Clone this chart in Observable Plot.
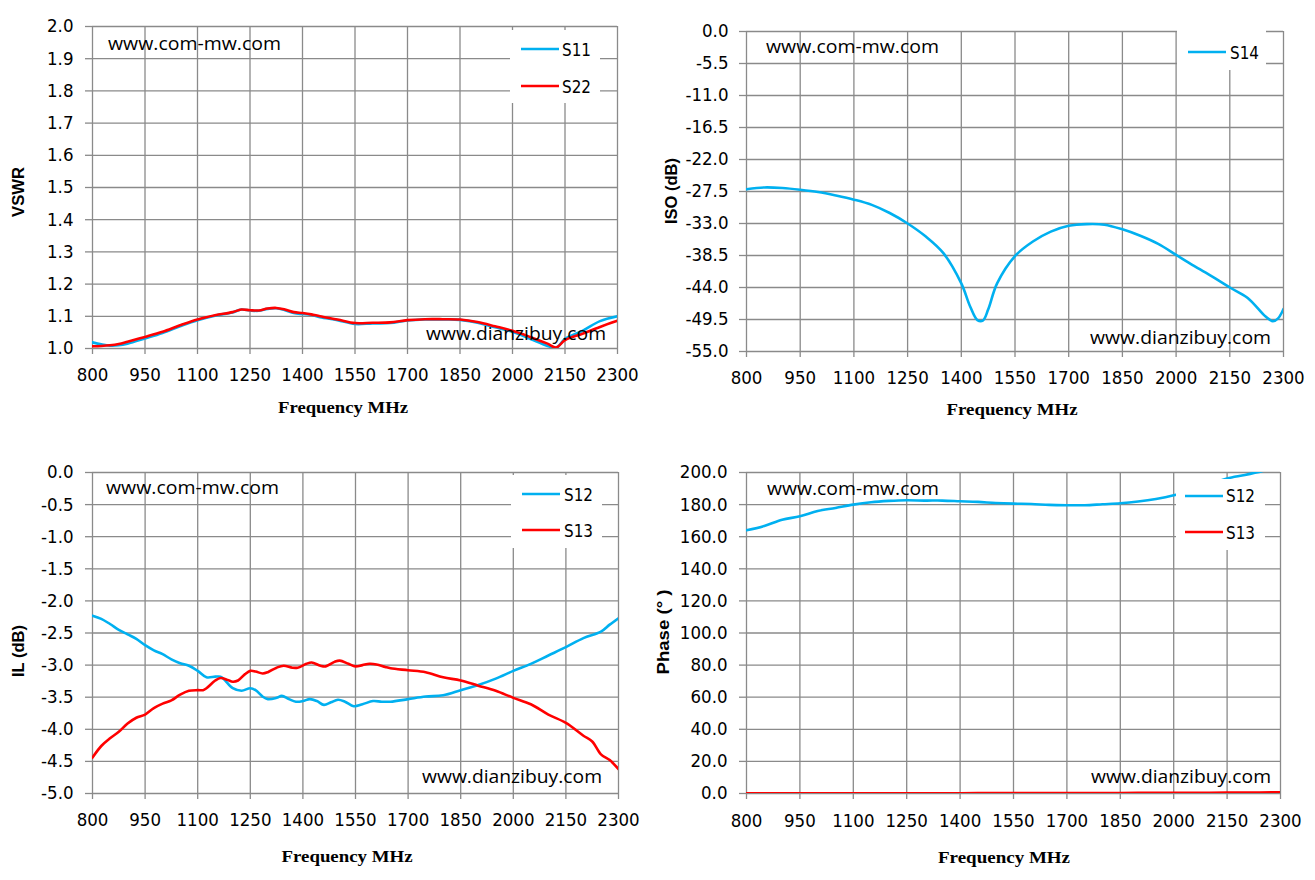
<!DOCTYPE html>
<html><head><meta charset="utf-8">
<script src="https://cdn.jsdelivr.net/npm/d3@7"></script>
<script src="https://cdn.jsdelivr.net/npm/@observablehq/plot@0.6"></script>
<style>
html,body{margin:0;padding:0;background:#fff;}
#root{position:relative;width:1315px;height:880px;overflow:hidden;background:#fff;}
.panel{position:absolute;}
#overlay{position:absolute;left:0;top:0;pointer-events:none;}
</style></head><body><div id="root"></div>
<script>
// ---------- tick labels ----------
const freqTicks = [800, 950, 1100, 1250, 1400, 1550, 1700, 1850, 2000, 2150, 2300];
const vswrTicks = [1.0, 1.1, 1.2, 1.3, 1.4, 1.5, 1.6, 1.7, 1.8, 1.9, 2.0];
const isoTicks = [0, -5.5, -11, -16.5, -22, -27.5, -33, -38.5, -44, -49.5, -55];
const ilTicks = [0, -0.5, -1, -1.5, -2, -2.5, -3, -3.5, -4, -4.5, -5];
const phaseTicks = [0, 20, 40, 60, 80, 100, 120, 140, 160, 180, 200];

// ---------- VSWR (top-left) ----------
const vswrFreq = [800, 825, 850, 875, 900, 950, 1000, 1050, 1100, 1150, 1200, 1225, 1250, 1275, 1300, 1325, 1350, 1375, 1400, 1425, 1450, 1500, 1550, 1600, 1650, 1700, 1750, 1800, 1850, 1900, 1950, 2000, 2050, 2100, 2125, 2150, 2200, 2250, 2300];
const s11 = [1.019, 1.013, 1.009, 1.010, 1.015, 1.031, 1.048, 1.069, 1.088, 1.102, 1.112, 1.121, 1.118, 1.117, 1.123, 1.125, 1.119, 1.110, 1.107, 1.105, 1.097, 1.088, 1.076, 1.078, 1.079, 1.087, 1.090, 1.090, 1.089, 1.080, 1.066, 1.052, 1.030, 1.008, 1.002, 1.030, 1.055, 1.085, 1.100];
const s22 = [1.007, 1.008, 1.010, 1.014, 1.021, 1.036, 1.052, 1.072, 1.090, 1.103, 1.113, 1.121, 1.119, 1.118, 1.124, 1.126, 1.121, 1.113, 1.110, 1.106, 1.100, 1.090, 1.079, 1.080, 1.081, 1.088, 1.091, 1.091, 1.090, 1.082, 1.069, 1.055, 1.036, 1.015, 1.003, 1.026, 1.046, 1.067, 1.086];

// ---------- ISO (top-right) ----------
const isoFreq = [800, 850, 900, 950, 1000, 1050, 1100, 1150, 1200, 1250, 1300, 1350, 1400, 1425, 1445, 1460, 1475, 1500, 1550, 1600, 1650, 1700, 1750, 1800, 1850, 1900, 1950, 2000, 2050, 2100, 2150, 2200, 2250, 2270, 2285, 2300];
const s14 = [-27.1, -26.8, -26.9, -27.2, -27.6, -28.2, -28.9, -29.8, -31.2, -33.0, -35.2, -38.1, -43.3, -47.3, -49.6, -49.7, -47.8, -43.3, -38.6, -36.1, -34.4, -33.4, -33.1, -33.2, -34.0, -35.1, -36.5, -38.4, -40.3, -42.1, -44.0, -45.8, -49.0, -49.8, -49.3, -47.7];

// ---------- IL (bottom-left) ----------
const ilFreq12 = [800, 825, 850, 875, 900, 925, 950, 975, 1000, 1025, 1050, 1075, 1100, 1125, 1150, 1165, 1175, 1200, 1225, 1250, 1265, 1285, 1300, 1325, 1340, 1360, 1380, 1400, 1420, 1440, 1460, 1480, 1500, 1520, 1545, 1570, 1600, 1625, 1650, 1700, 1750, 1800, 1850, 1900, 1950, 2000, 2050, 2100, 2150, 2200, 2250, 2275, 2300];
const il12 = [-2.23, -2.28, -2.36, -2.45, -2.52, -2.59, -2.69, -2.77, -2.83, -2.91, -2.97, -3.01, -3.09, -3.19, -3.18, -3.18, -3.22, -3.36, -3.40, -3.36, -3.39, -3.49, -3.53, -3.51, -3.48, -3.53, -3.57, -3.56, -3.53, -3.56, -3.62, -3.58, -3.54, -3.57, -3.64, -3.61, -3.56, -3.57, -3.57, -3.53, -3.49, -3.47, -3.39, -3.31, -3.21, -3.09, -2.98, -2.85, -2.72, -2.58, -2.48, -2.37, -2.27];
const ilFreq13 = [800, 825, 850, 875, 900, 925, 950, 975, 1000, 1025, 1050, 1075, 1100, 1115, 1125, 1150, 1165, 1185, 1200, 1215, 1235, 1250, 1265, 1285, 1300, 1325, 1345, 1370, 1385, 1410, 1425, 1450, 1465, 1490, 1505, 1530, 1550, 1570, 1590, 1610, 1635, 1650, 1700, 1750, 1800, 1850, 1900, 1950, 2000, 2050, 2100, 2150, 2200, 2225, 2250, 2275, 2300];
const il13 = [-4.44, -4.26, -4.14, -4.04, -3.91, -3.82, -3.77, -3.67, -3.60, -3.55, -3.46, -3.40, -3.39, -3.39, -3.36, -3.24, -3.20, -3.23, -3.26, -3.24, -3.14, -3.09, -3.10, -3.13, -3.11, -3.04, -3.01, -3.04, -3.04, -2.98, -2.96, -3.01, -3.02, -2.95, -2.93, -2.98, -3.02, -3.00, -2.98, -2.99, -3.03, -3.05, -3.08, -3.11, -3.19, -3.24, -3.32, -3.40, -3.51, -3.61, -3.77, -3.90, -4.10, -4.19, -4.39, -4.48, -4.62];

// ---------- Phase (bottom-right) ----------
const phFreq12 = [800, 850, 900, 950, 1000, 1050, 1100, 1150, 1200, 1250, 1300, 1350, 1400, 1450, 1500, 1550, 1600, 1650, 1700, 1750, 1800, 1850, 1900, 1950, 2000, 2050, 2100, 2150, 2200, 2250, 2300];
const ph12 = [164.0, 166.7, 170.6, 172.7, 176.0, 177.9, 180.0, 181.5, 182.3, 182.7, 182.5, 182.5, 182.1, 181.7, 181.0, 180.6, 180.4, 179.8, 179.6, 179.6, 180.2, 180.8, 181.9, 183.5, 185.8, 189.0, 192.8, 196.3, 198.5, 201.0, 204.0];
const phFreq13 = [800, 900, 1000, 1100, 1200, 1300, 1400, 1500, 1600, 1700, 1800, 1900, 2000, 2100, 2200, 2300];
const ph13 = [0.1, 0.1, 0.1, 0.1, 0.1, 0.2, 0.2, 0.3, 0.3, 0.3, 0.3, 0.4, 0.4, 0.5, 0.6, 0.7];

// ---------- styling ----------
const BLUE = "#00b0f0", RED = "#ff0000", GRID = "#8a8a8a";
const TICKFONT = "'Liberation Sans Narrow', 'DejaVu Sans Condensed', 'Arial Narrow', sans-serif";
const rows = (xs, ys) => xs.map((f, i) => ({f, v: ys[i]}));

function panel({left, top, width, height, ml, mr, mt, mb, domain, yTicks, yPad, xPad, series}) {
  const chart = Plot.plot({
    width, height,
    marginLeft: ml, marginRight: mr, marginTop: mt, marginBottom: mb,
    style: {fontFamily: TICKFONT, fontSize: "18px", color: "#000", background: "transparent", overflow: "visible"},
    x: {domain: [800, 2300], label: null},
    y: {domain, label: null},
    marks: [
      Plot.gridX(freqTicks, {stroke: GRID, strokeOpacity: 1, strokeWidth: 1.3}),
      Plot.gridY(yTicks, {stroke: GRID, strokeOpacity: 1, strokeWidth: 1.3}),
      Plot.axisX({ticks: freqTicks, tickSize: 6, tickPadding: xPad, stroke: GRID, strokeWidth: 1.3, fill: "#000", fontSize: 18.5, label: null, tickFormat: d => String(d)}),
      Plot.axisY({ticks: yTicks, tickSize: 7, tickPadding: yPad, stroke: GRID, strokeWidth: 1.3, fill: "#000", fontSize: 18.5, label: null, tickFormat: d => d.toFixed(1)}),
      ...series.map(s => Plot.line(rows(s.x, s.y), {x: "f", y: "v", stroke: s.color, strokeWidth: 2.6, curve: "catmull-rom", clip: true}))
    ]
  });
  const div = document.createElement("div");
  div.className = "panel";
  div.style.left = left + "px";
  div.style.top = top + "px";
  div.appendChild(chart);
  document.getElementById("root").appendChild(div);
}

panel({left: 0, top: 0, width: 657, height: 430, ml: 92, mr: 40, mt: 26, mb: 82,
  domain: [1, 2], yTicks: vswrTicks, yPad: 12, xPad: 13,
  series: [{x: vswrFreq, y: s11, color: BLUE}, {x: vswrFreq, y: s22, color: RED}]});
panel({left: 657, top: 0, width: 658, height: 430, ml: 89, mr: 32, mt: 31, mb: 79,
  domain: [-55, 0], yTicks: isoTicks, yPad: 11, xPad: 13,
  series: [{x: isoFreq, y: s14, color: BLUE}]});
panel({left: 0, top: 440, width: 657, height: 440, ml: 92, mr: 39, mt: 32, mb: 87,
  domain: [-5, 0], yTicks: ilTicks, yPad: 12, xPad: 13,
  series: [{x: ilFreq12, y: il12, color: BLUE}, {x: ilFreq13, y: il13, color: RED}]});
panel({left: 657, top: 440, width: 658, height: 440, ml: 89, mr: 35, mt: 32, mb: 87,
  domain: [0, 200], yTicks: phaseTicks, yPad: 12, xPad: 14,
  series: [{x: phFreq12, y: ph12, color: BLUE}, {x: phFreq13, y: ph13, color: RED}]});

// ---------- overlay: legends, titles, watermarks ----------
const ov = d3.select("#root").append("svg").attr("id", "overlay")
  .attr("width", 1315).attr("height", 880).attr("viewBox", "0 0 1315 880");

function txt(s, x, y, {font, size, weight = "normal", len, anchor = "start", rotate = 0}) {
  const t = ov.append("text").text(s)
    .attr("font-family", font).attr("font-size", size).attr("font-weight", weight)
    .attr("text-anchor", anchor).attr("fill", "#000");
  if (len) t.attr("textLength", len).attr("lengthAdjust", "spacingAndGlyphs");
  if (rotate) t.attr("transform", `translate(${x},${y}) rotate(${rotate})`);
  else t.attr("x", x).attr("y", y);
}

const LEGFONT = TICKFONT;
const legends = [
  {box: [510, 30, 90, 73], items: [{name: "S11", color: BLUE, y: 49, base: 56}, {name: "S22", color: RED, y: 86, base: 93}], sx: 521, tx: 562},
  {box: [1177, 30, 89, 40], items: [{name: "S14", color: BLUE, y: 52, base: 58.5}], sx: 1188, tx: 1230},
  {box: [511, 475, 91, 73], items: [{name: "S12", color: BLUE, y: 494, base: 501}, {name: "S13", color: RED, y: 530, base: 537}], sx: 522, tx: 564},
  {box: [1176, 479, 89, 71], items: [{name: "S12", color: BLUE, y: 496, base: 502}, {name: "S13", color: RED, y: 532, base: 538.5}], sx: 1185, tx: 1226}
];
for (const L of legends) {
  ov.append("rect").attr("x", L.box[0]).attr("y", L.box[1]).attr("width", L.box[2]).attr("height", L.box[3]).attr("fill", "#fff");
  for (const it of L.items) {
    ov.append("line").attr("x1", L.sx).attr("x2", L.sx + 38).attr("y1", it.y).attr("y2", it.y)
      .attr("stroke", it.color).attr("stroke-width", 2.6);
    txt(it.name, L.tx, it.base, {font: LEGFONT, size: 17.5, len: 29});
  }
}

const WM = "'Open Sans', 'Noto Sans', sans-serif";
const marks1 = [[108, 50, 173], [766, 52.5, 173], [106, 494, 173], [767, 495, 172]];
const marks2 = [[426, 340, 180], [1090, 344, 181], [422, 783, 180], [1091, 783, 180]];
for (const [x, y, l] of marks1) txt("www.com-mw.com", x, y, {font: WM, size: 19, len: l});
for (const [x, y, l] of marks2) txt("www.dianzibuy.com", x, y, {font: WM, size: 19, len: l});

const TF = "'Liberation Sans', Arial, sans-serif";
txt("VSWR", 23.5, 192, {font: TF, size: 16.5, weight: "bold", anchor: "middle", rotate: -90, len: 50});
txt("ISO (dB)", 677, 191, {font: TF, size: 16.5, weight: "bold", anchor: "middle", rotate: -90, len: 66});
txt("IL (dB)", 23.5, 651, {font: TF, size: 16.5, weight: "bold", anchor: "middle", rotate: -90, len: 52});
txt("Phase (° )", 669, 632, {font: TF, size: 16.5, weight: "bold", anchor: "middle", rotate: -90, len: 85});

const XF = "'Liberation Serif', 'DejaVu Serif', serif";
txt("Frequency  MHz", 343, 413, {font: XF, size: 17, weight: "bold", anchor: "middle", len: 130});
txt("Frequency  MHz", 1012, 415, {font: XF, size: 17, weight: "bold", anchor: "middle", len: 131});
txt("Frequency  MHz", 347, 862, {font: XF, size: 17, weight: "bold", anchor: "middle", len: 131});
txt("Frequency  MHz", 1004, 863, {font: XF, size: 17, weight: "bold", anchor: "middle", len: 132});
</script></body></html>
